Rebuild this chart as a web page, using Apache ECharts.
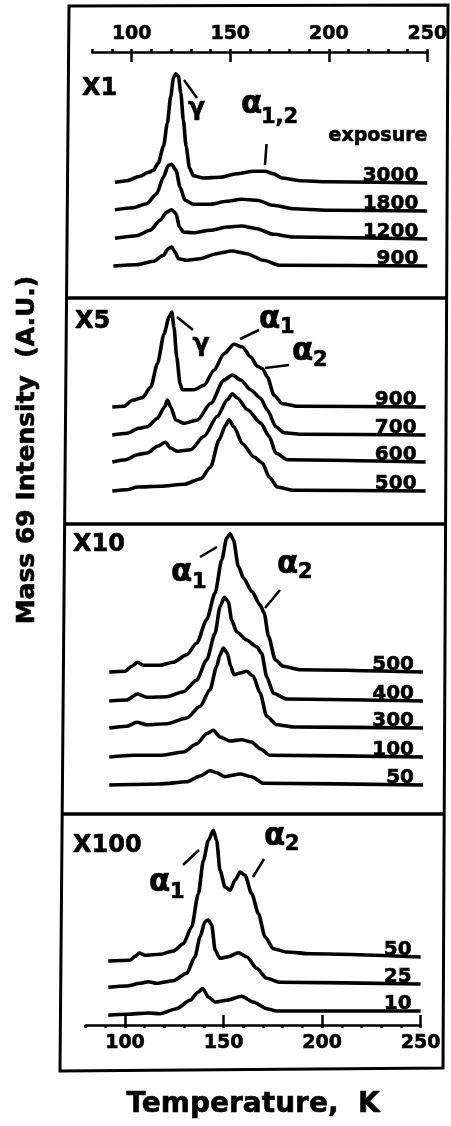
<!DOCTYPE html>
<html><head><meta charset="utf-8">
<script src="https://cdn.jsdelivr.net/npm/echarts@6/dist/echarts.min.js"></script>
<style>html,body{margin:0;padding:0;background:#fff}#c{width:451px;height:1126px}</style>
</head><body><div id="c"></div>
<script>
// ---------------- data ----------------
const tempTicks = [100, 150, 200, 250];
const panelFactors = ['X1', 'X5', 'X10', 'X100'];
const exposures = [[3000, 1800, 1200, 900], [900, 700, 600, 500], [500, 400, 300, 100, 50], [50, 25, 10]];
// vertical stacking offset of each trace (arbitrary units)
const baselineOffsets = [[107, 79, 51, 24], [113, 85, 58, 29], [138, 109, 82, 53, 25], [68, 41, 14]];

// Panel X1 : [T (K), intensity above baseline]
const x1_3000 = [[91.5,0.7],[97.5,2.3],[104.2,6.7],[108.5,10.7],[111,12.7],[113.5,20],[116.1,36.7],[118.1,60],[119.8,86.7],[121.2,105],[122.3,109.3],[123.7,106.7],[124.9,90],[126.2,63],[127.6,36.7],[129.3,15],[131.3,7.3],[136.4,5],[144.8,5.7],[153.3,9.3],[161.8,11.7],[167.7,11.7],[171.9,9.3],[176.1,5],[185.4,2.3],[199,1.3],[250,0]];
const x1_1800 = [[91.5,1.3],[100.8,3.3],[107.6,7.3],[112.7,17.3],[116.1,34],[118.6,45.7],[120.3,46.7],[122.5,40.7],[124.5,24],[127.1,10.7],[131.3,6.7],[139.8,6.7],[148.2,9.7],[155.8,11.7],[163.5,10.7],[171.9,5.7],[182.1,2.3],[199,0.7],[250,0]];
const x1_1200 = [[91.5,0.7],[102.5,3.3],[109.3,8.7],[114.4,18.7],[117.8,27],[120.3,29.3],[122.5,25.3],[124.2,12],[126.2,7],[131.3,6.3],[139.8,8.7],[148.2,12],[155.8,13],[163.5,10.3],[171.9,4.7],[182.1,2],[250,0]];
const x1_900 = [[90.7,0],[102.5,1.3],[111,4.7],[116.1,10.7],[118.6,17.3],[120.3,19],[122,14],[123.7,7.3],[127.9,5.7],[134.7,7.3],[143.1,12.3],[150.8,15],[158.4,12.3],[166.8,5.7],[175.3,0.7],[250,0]];

// Panel X5
const x5_900 = [[91,0],[97,0.7],[101.2,6.7],[106.3,9.3],[110.5,20],[113.9,43.3],[117.3,73.3],[119.8,90],[121.2,95],[122.3,80],[123.7,50],[125.4,23.3],[126.6,17.3],[132.5,17.3],[137.6,21.7],[142.6,36.7],[147.7,53.3],[152.8,62.7],[157,60],[161.3,50],[164.6,40.7],[167.2,38.3],[169.7,30],[173.1,11.7],[177.3,3.3],[185,0.7],[250,0]];
const x5_700 = [[91,0],[98.6,1.7],[104.5,6.7],[108.8,8.3],[113.9,16.7],[117.6,28.3],[119,35],[120.6,28.3],[123.2,15],[127.4,11.7],[134.2,15],[141,31.7],[147.7,55],[151.9,60],[156.2,55],[161.3,45],[166.3,36.7],[169.7,25],[174,8.3],[178.2,2.3],[186.6,0.7],[250,0]];
const x5_600 = [[91,0],[97.8,2.3],[103.7,7.3],[108.8,9],[113.9,15.7],[118,19.7],[120.6,14],[124,10.7],[130.8,12.3],[137.6,25.7],[144.3,45.7],[149.4,62.3],[151.9,68.3],[154.5,64],[159.6,52.3],[166.3,39],[170.6,25.7],[174,9],[179.9,2.3],[250,0]];
const x5_500 = [[91,0],[98.6,1.3],[103.7,4],[115.5,4.7],[127.4,6.7],[135.9,12.3],[140.9,24],[145.1,50.7],[148.5,65.7],[150.2,71.3],[152.8,64],[157,47.3],[162.9,34],[167.2,28],[170.6,14],[174.8,4],[183.2,0.7],[250,0]];

// Panel X10
const x10_500 = [[90.8,0],[98.8,0.7],[102.2,5.7],[105.1,9.7],[108.1,6.7],[116.5,6.7],[123.3,9.7],[130.1,17.3],[135.2,29],[140.2,52.3],[144.5,79],[147.9,112.3],[150.4,134],[152.1,138.3],[153.8,132.3],[156.3,105.7],[158.9,94],[163.1,80.7],[167.3,67.3],[169.4,59],[171.6,35.7],[175,12.3],[179.1,5.7],[187.6,2.3],[250,0]];
const x10_400 = [[90.8,0],[99.6,1],[105.1,7],[109.8,3.7],[120,4.3],[128.4,9.3],[135.2,21],[140.2,41],[144.5,67.7],[147,94.3],[149.2,103.7],[151.2,99.3],[152.9,81],[155.4,69.3],[160.5,61],[165.6,54.3],[168.1,47.7],[170.7,24.3],[174.1,7.7],[180.8,2],[250,0]];
const x10_300 = [[90.8,0],[99.6,1.7],[104.7,5.7],[109.8,3.3],[120,4.3],[130.1,10],[136.9,21.7],[141.9,38.3],[145.3,61.7],[147,73.3],[148.7,80],[150.7,75],[152.4,61.7],[154.1,53.3],[157.2,55],[160.5,56.7],[163.9,51.7],[167.3,35],[170.7,11.7],[175.8,3.3],[184.2,1],[250,0]];
const x10_100 = [[90.8,0],[103,1.7],[116.5,1.7],[128.4,5],[135.2,13.3],[140.2,23.3],[143.6,26.7],[147,20],[152.1,16],[157.9,17.3],[163,15],[167.3,8.3],[172.4,1.7],[250,0]];
const x10_50 = [[90.8,0],[116.5,1],[130.1,3.3],[136.9,9],[141.9,14.3],[145.3,12.3],[149.5,8.3],[157.2,11],[163,8.3],[169,1.7],[250,0]];

// Panel X100
const x100_50 = [[91.5,-4],[102.5,-3.3],[105.1,0.7],[107.3,4],[110.2,1.7],[117.8,2.7],[124.5,6],[129.6,13.3],[133.8,30],[137.2,63.3],[139.8,96.7],[142.3,116.7],[144.8,126.7],[146.5,116.7],[148.2,86.7],[150.8,70],[153.3,66.7],[155.8,76.7],[158.4,85],[160.9,81.7],[164.3,63.3],[167.7,43.3],[171.1,20],[175.3,8.3],[182.1,5],[193.9,3.3],[250,0]];
const x100_25 = [[91.5,-3.3],[100.8,-2],[107.6,0.7],[111.8,2.3],[116.1,0.7],[124.5,3.3],[131.3,10.7],[135.5,27.3],[138.1,47.3],[140.6,62.3],[142.3,64],[144,59],[145.7,34],[148.2,25.7],[152.5,27.3],[157.5,31.3],[161.8,27.3],[166.8,15.7],[171.9,5.7],[178.7,1.7],[250,0]];
const x100_10 = [[91.5,-4.3],[100.8,-3.3],[111.8,-2],[117.8,-2.7],[126.2,2.3],[133,10.7],[137.2,19],[139.4,22.5],[142.3,14],[145.7,9],[151.6,10.7],[159.2,14.7],[165.1,9],[171.9,2.3],[177,0],[250,0]];

const panelCurves = [
  [x1_3000, x1_1800, x1_1200, x1_900],
  [x5_900, x5_700, x5_600, x5_500],
  [x10_500, x10_400, x10_300, x10_100, x10_50],
  [x100_50, x100_25, x100_10]
];

// ---------------- layout / style ----------------
const FONT = '"DejaVu Sans", "Liberation Sans", sans-serif';
const INK = '#000';
const HEAVY = 0.6; // extra stroke to mimic the black-weight typeface
const gridBoxes = [
  {left: 92.3, top: 52, width: 335, height: 238},
  {left: 90.6, top: 300, width: 335, height: 220},
  {left: 88.0, top: 527, width: 335, height: 283},
  {left: 85.6, top: 817, width: 335, height: 208}
];
// extra overlay grids (same boxes as the first and last panel) that carry the long major ticks
const allGrids = gridBoxes.concat([gridBoxes[0], gridBoxes[3]]);
const txt = (size) => ({color: INK, fontFamily: FONT, fontWeight: 'bold', fontSize: size, textBorderColor: INK, textBorderWidth: HEAVY});

const xAxes = [];
gridBoxes.forEach((g, p) => {
  const isTop = p === 0, isBottom = p === 3;
  if (isTop || isBottom) {
    xAxes.push({
      type: 'value', gridIndex: p, position: isTop ? 'top' : 'bottom',
      min: 80, max: 250, interval: 10,
      axisLine: {show: true, onZero: false, lineStyle: {color: INK, width: 2.5}},
      axisTick: {show: true, inside: false, length: 3, lineStyle: {color: INK, width: 2.5}},
      axisLabel: Object.assign({show: true, customValues: tempTicks, margin: isTop ? 8 : 9}, txt(19)),
      splitLine: {show: false},
      name: isBottom ? 'Temperature,  K' : '',
      nameLocation: 'middle', nameGap: 66,
      nameTextStyle: txt(28)
    });
  } else {
    xAxes.push({type: 'value', gridIndex: p, min: 80, max: 250, show: false, axisLine: {onZero: false}, splitLine: {show: false}});
  }
});
[[4, 'top'], [5, 'bottom']].forEach(([gi, pos]) => {
  xAxes.push({
    type: 'value', gridIndex: gi, position: pos, min: 80, max: 250, interval: 10,
    axisLine: {show: false, onZero: false},
    axisTick: {show: true, inside: true, length: 10, customValues: tempTicks, lineStyle: {color: INK, width: 2.5}},
    axisLabel: {show: false}, splitLine: {show: false}
  });
});

const yAxes = allGrids.map((g, p) => ({type: 'value', gridIndex: p, min: 0, max: g.height, show: false, splitLine: {show: false}}));

const series = [];
panelCurves.forEach((curves, p) => {
  curves.forEach((curve, i) => {
    const off = baselineOffsets[p][i];
    series.push({
      type: 'line', xAxisIndex: p, yAxisIndex: p,
      data: curve.map(([t, h]) => [t, off + h]),
      showSymbol: false, smooth: 0.25, smoothMonotone: 'x', silent: true,
      lineStyle: {color: INK, width: 3.6, join: 'round'},
      endLabel: Object.assign({show: true, formatter: String(exposures[p][i]), align: 'right', verticalAlign: 'bottom', distance: 0, offset: [-9, 2.5]}, txt(20))
    });
  });
});

// annotations (text + leader lines)
const T = (x, y, s, size, align) => ({type: 'text', x, y, style: {text: s, textAlign: align || 'left', textVerticalAlign: 'middle', fill: INK, stroke: INK, lineWidth: HEAVY, font: 'bold ' + size + 'px ' + FONT}});
const L = (x1, y1, x2, y2, w) => ({type: 'line', shape: {x1, y1, x2, y2}, style: {stroke: INK, lineWidth: w || 2.5}});
const graphics = [
  {type: 'polygon', shape: {points: [[69, 6], [448, 5], [443, 1068], [60, 1071]]}, style: {fill: 'none', stroke: INK, lineWidth: 3}},
  L(66.5, 298, 446.6, 298, 3.5), L(64.6, 524, 445.5, 524, 3.5), L(62.2, 814, 444.1, 814, 3.5),
  // panel labels
  T(82, 88.7, panelFactors[0], 24), T(75, 321.7, panelFactors[1], 24), T(73, 544.7, panelFactors[2], 24), T(73, 846, panelFactors[3], 24),
  T(378, 136.4, 'exposure', 19, 'center'),
  // X1
  L(184, 80, 197, 98), T(196.5, 108, 'γ', 25, 'center'),
  T(241, 104.5, 'α', 31), T(261, 117.7, '1,2', 21), L(266.5, 144, 265, 165),
  // X5
  L(177, 317, 193, 330), T(201, 344, 'γ', 25, 'center'),
  L(240, 339, 259, 330), T(259, 319.5, 'α', 31), T(280, 327.7, '1', 21),
  L(265, 368, 289, 365), T(292, 351.5, 'α', 31), T(313, 360.7, '2', 21),
  // X10
  L(200, 557, 217, 547), T(171, 572.5, 'α', 31), T(192, 582.7, '1', 21),
  L(265, 608, 280, 590), T(277, 564.5, 'α', 31), T(298, 572.7, '2', 21),
  // X100
  L(183, 865, 199, 850), T(149, 882.5, 'α', 31), T(170, 892.7, '1', 21),
  L(253, 877, 264, 859), T(264, 836.5, 'α', 31), T(285, 844.7, '2', 21),
  // y title
  {type: 'text', x: 27, y: 450, rotation: Math.PI / 2, style: {text: 'Mass 69 Intensity  (A.U.)', textAlign: 'center', textVerticalAlign: 'middle', fill: INK, stroke: INK, lineWidth: HEAVY, font: 'bold 25px ' + FONT}}
];

const chart = echarts.init(document.getElementById('c'), null, {renderer: 'canvas'});
chart.setOption({
  animation: false,
  backgroundColor: '#fff',
  grid: allGrids.map(g => Object.assign({containLabel: false}, g)),
  xAxis: xAxes,
  yAxis: yAxes,
  series,
  graphic: graphics
});
</script></body></html>
